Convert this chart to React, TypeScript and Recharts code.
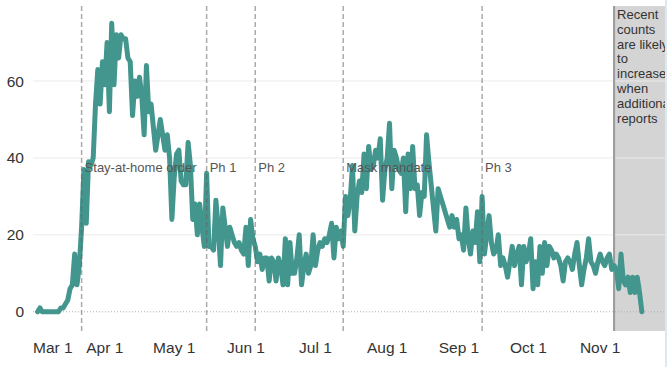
import React from 'react';
import { LineChart, Line, XAxis, YAxis, ReferenceLine, ReferenceArea } from 'recharts';

// Day offsets are counted from Mar 1 (day 0). The series starts on Mar 3.
const firstDay = 2;
const cases = [
  0, 1, 0, 0, 0, 0, 0, 0, 0, 0,
  1, 1, 2, 3, 6, 7, 15, 7, 12, 22,
  37, 23, 39, 38, 40, 54, 63, 54, 65, 59,
  70, 52, 75, 59, 72, 66, 72, 71, 71, 66,
  65, 51, 60, 56, 61, 56, 46, 64, 52, 54,
  48, 42, 46, 50, 46, 42, 46, 40, 24, 35,
  41, 42, 34, 33, 33, 44, 38, 24, 28, 20,
  28, 22, 17, 36, 17, 17, 16, 29, 22, 12,
  27, 22, 17, 22, 20, 18, 17, 18, 16, 15,
  22, 12, 24, 19, 17, 13, 15, 11, 14, 14,
  8, 14, 13, 8, 14, 12, 7, 19, 7, 18,
  10, 10, 14, 20, 7, 12, 15, 10, 12, 20,
  12, 16, 18, 17, 19, 18, 20, 23, 14, 22,
  19, 21, 17, 30, 25, 29, 38, 21, 30, 34,
  31, 41, 32, 43, 37, 38, 42, 40, 45, 29,
  37, 40, 49, 32, 42, 40, 37, 36, 40, 26,
  41, 32, 43, 32, 33, 25, 31, 30, 46, 39,
  33, 27, 21, 32, 30, 28, 26, 24, 22, 25,
  22, 24, 19, 20, 16, 27, 19, 15, 21, 18,
  26, 13, 30, 15, 20, 25, 18, 15, 16, 20,
  12, 14, 12, 9, 13, 17, 12, 15, 17, 7,
  17, 13, 15, 19, 6, 13, 7, 17, 10, 18,
  12, 17, 16, 14, 15, 14, 12, 8, 13, 14,
  13, 11, 15, 18, 12, 7, 11, 14, 19, 13,
  12, 10, 13, 15, 13, 12, 14, 15, 11, 12,
  11, 6, 15, 8, 7, 9, 5, 9, 5, 9,
  5, 0,
];

const tickDays = [0, 31, 61, 92, 122, 153, 184, 214, 245];
const tickLabels = ['Mar 1', 'Apr 1', 'May 1', 'Jun 1', 'Jul 1', 'Aug 1', 'Sep 1', 'Oct 1', 'Nov 1'];
const yTicks = [0, 20, 40, 60];
const gridValues = [20, 40, 60];
const eventDays = [21, 75, 96, 134, 194];
const eventLabels = ['Stay-at-home order', 'Ph 1', 'Ph 2', 'Mask mandate', 'Ph 3'];
const recentStart = 251;
const domainEnd = 273;
const recentNote = ['Recent', 'counts', 'are likely', 'to', 'increase', 'when', 'additional', 'reports'];

const data = cases.map((v, i) => ({ day: firstDay + i, value: v }));

const FONT = '"Liberation Sans", Arial, Helvetica, sans-serif';

const XTick = (props: any) => {
  const { x, y, payload } = props;
  const idx = tickDays.indexOf(payload.value);
  return (
    <text x={x} y={y} dy="0.71em" textAnchor={idx === 0 ? 'start' : 'middle'} fill="#333" fontSize={15.5} fontFamily={FONT}>
      {tickLabels[idx]}
    </text>
  );
};

const EventLabel = (props: any) => {
  const { viewBox, text } = props;
  if (!viewBox) return null;
  return (
    <text x={viewBox.x + 3} y={viewBox.y + 166} fill="#555" fontSize={13} fontFamily={FONT}>
      {text}
    </text>
  );
};

const RecentLabel = (props: any) => {
  const { viewBox } = props;
  if (!viewBox) return null;
  const { x, y, width, height } = viewBox;
  return (
    <g>
      <defs>
        <clipPath id="recentClip">
          <rect x={x} y={y} width={width} height={height} />
        </clipPath>
      </defs>
      <text clipPath="url(#recentClip)" x={x + 3} y={y + 13} fill="#333" fontSize={13} fontFamily={FONT}>
        {recentNote.map((l, i) => (
          <tspan key={i} x={x + 3} dy={i === 0 ? 0 : 14.8}>
            {l}
          </tspan>
        ))}
      </text>
    </g>
  );
};

export default function App() {
  return (
    <div style={{ position: 'absolute', left: 0, top: 0, width: 667, height: 367, background: '#fff' }}>
      <LineChart width={667} height={367} data={data} margin={{ top: 6, right: 2, bottom: 0, left: 0 }}>
        <XAxis
          dataKey="day"
          type="number"
          domain={[0, domainEnd]}
          ticks={tickDays}
          interval={0}
          tick={<XTick />}
          tickLine={false}
          axisLine={false}
          tickMargin={5}
          height={36}
          allowDataOverflow
        />
        <YAxis
          type="number"
          domain={[-5, 79.5]}
          ticks={yTicks}
          interval={0}
          tickLine={false}
          axisLine={false}
          tickMargin={3}
          width={33}
          allowDataOverflow
          tick={{ fill: '#333', fontSize: 15.5, fontFamily: FONT }}
        />
        <ReferenceArea
          x1={recentStart}
          x2={domainEnd}
          fill="#d4d4d4"
          fillOpacity={1}
          stroke="none"
          ifOverflow="hidden"
          label={<RecentLabel />}
        />
        {gridValues.map((g) => (
          <ReferenceLine key={g} y={g} stroke="#ebebeb" strokeWidth={1} />
        ))}
        <ReferenceLine y={0} stroke="#b0b0b0" strokeDasharray="1 2" strokeWidth={1} />
        <ReferenceLine x={recentStart} stroke="#9a9a9a" strokeWidth={2} />
        <Line
          type="linear"
          dataKey="value"
          stroke="#43968d"
          strokeWidth={5}
          dot={false}
          activeDot={false}
          strokeLinejoin="round"
          strokeLinecap="round"
          isAnimationActive={false}
        />
        {eventDays.map((d, i) => (
          <ReferenceLine
            key={d}
            x={d}
            stroke="rgba(100,100,100,0.55)"
            strokeWidth={1.5}
            strokeDasharray="5 3"
            label={<EventLabel text={eventLabels[i]} />}
          />
        ))}
      </LineChart>
      <div style={{ position: 'absolute', left: 665, top: 0, width: 2, height: 367, background: '#dbe8ef' }} />
    </div>
  );
}
